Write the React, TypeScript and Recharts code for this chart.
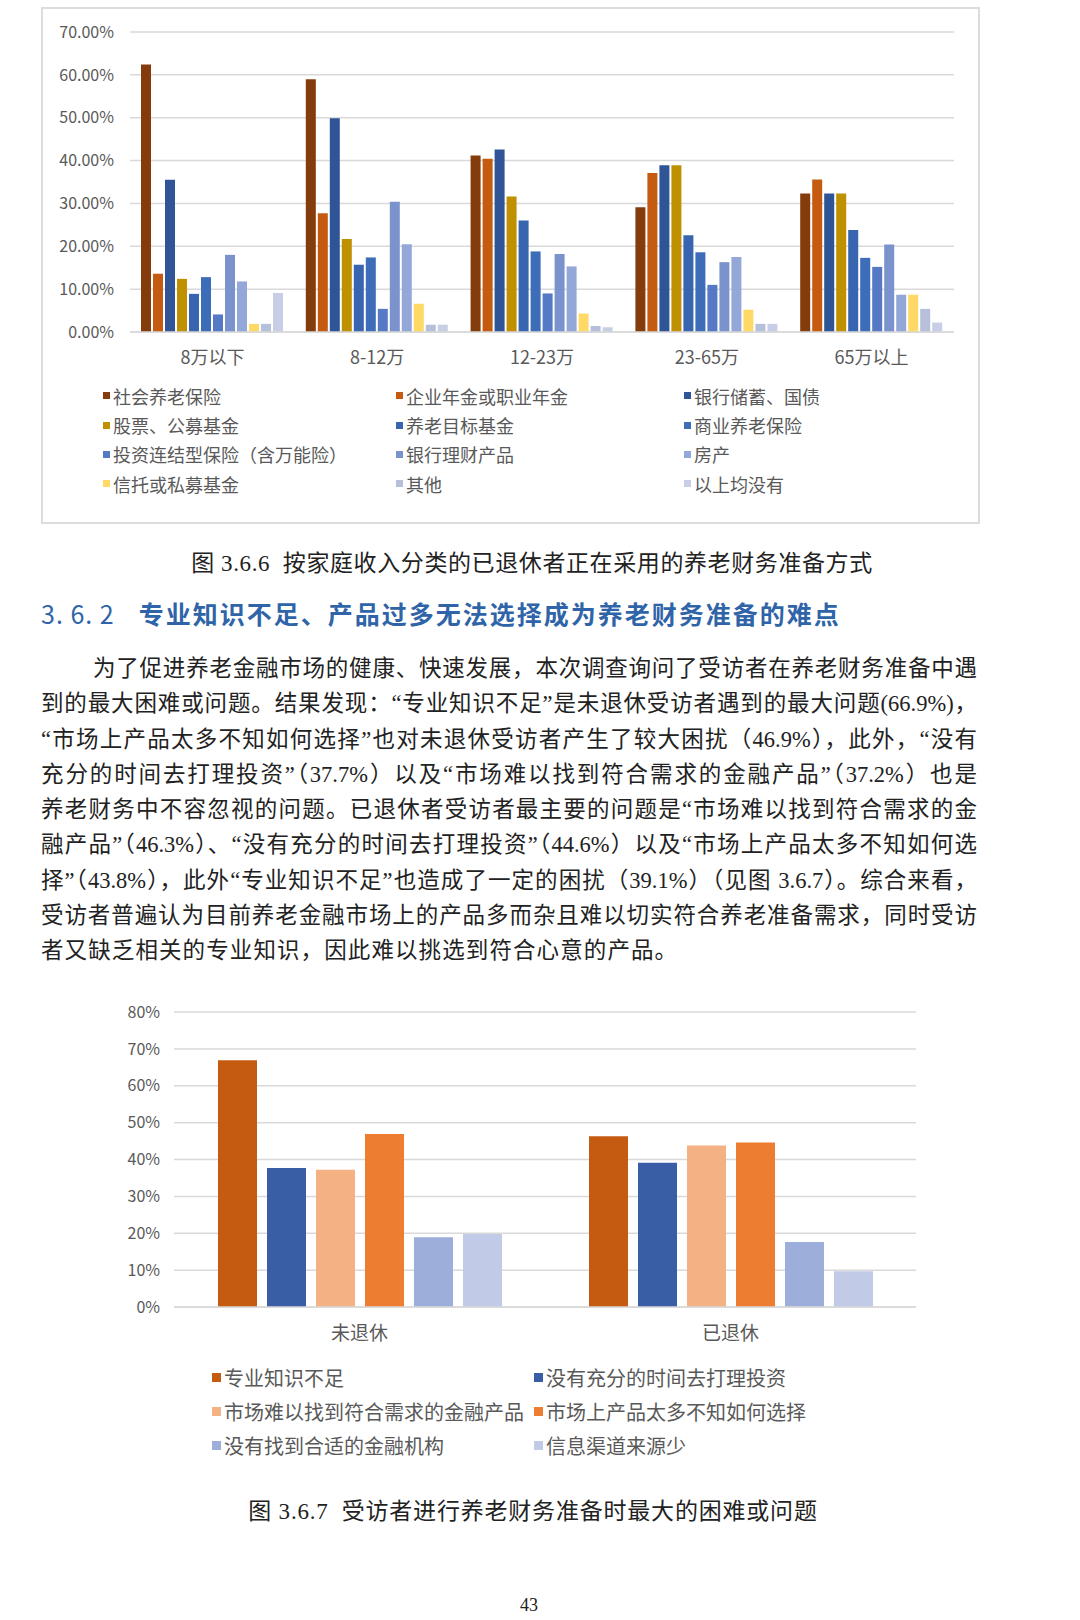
import React from "react"
import { Bar, BarChart, CartesianGrid, Legend, XAxis, YAxis } from "recharts"

// 图 3.6.6 — income groups and preparation methods (%)
const incomeGroups = ["8万以下", "8-12万", "12-23万", "23-65万", "65万以上"]
const methodNames = [
  "社会养老保险",
  "企业年金或职业年金",
  "银行储蓄、国债",
  "股票、公募基金",
  "养老目标基金",
  "商业养老保险",
  "投资连结型保险（含万能险）",
  "银行理财产品",
  "房产",
  "信托或私募基金",
  "其他",
  "以上均没有",
]
const methodColors = [
  "#843C0C",
  "#C55A11",
  "#2F5597",
  "#BF9000",
  "#3864B0",
  "#3D6CB8",
  "#5579C4",
  "#7B93CC",
  "#93A8D8",
  "#FFD966",
  "#B7C0DA",
  "#C8CEE6",
]
// one array per income group, in methodNames order
const under8 = [62.4, 13.6, 35.5, 12.4, 8.9, 12.8, 4.1, 18.0, 11.8, 1.9, 1.9, 9.1]
const from8to12 = [59.0, 27.7, 49.9, 21.7, 15.7, 17.4, 5.4, 30.4, 20.5, 6.6, 1.7, 1.7]
const from12to23 = [41.2, 40.4, 42.6, 31.6, 26.0, 18.8, 9.0, 18.2, 15.3, 4.3, 1.4, 1.1]
const from23to65 = [29.1, 37.1, 38.9, 38.9, 22.6, 18.6, 11.0, 16.3, 17.5, 5.2, 1.9, 1.9]
const over65 = [32.3, 35.6, 32.3, 32.3, 23.8, 17.3, 15.2, 20.4, 8.7, 8.7, 5.4, 2.2]
const incomeTicks = [0, 10, 20, 30, 40, 50, 60, 70]

// 图 3.6.7 — biggest difficulty (%)
const statusGroups = ["未退休", "已退休"]
const problemNames = [
  "专业知识不足",
  "没有充分的时间去打理投资",
  "市场难以找到符合需求的金融产品",
  "市场上产品太多不知如何选择",
  "没有找到合适的金融机构",
  "信息渠道来源少",
]
const problemColors = ["#C55A11", "#3A5EA6", "#F4B183", "#ED7D31", "#9DAEDB", "#C1CAE6"]
const notRetired = [66.9, 37.7, 37.2, 46.9, 18.9, 19.8]
const retired = [46.3, 39.1, 43.8, 44.6, 17.6, 9.7]
const statusTicks = [0, 10, 20, 30, 40, 50, 60, 70, 80]

const paragraphLines = [
  "为了促进养老金融市场的健康、快速发展，本次调查询问了受访者在养老财务准备中遇",
  "到的最大困难或问题。结果发现：“专业知识不足”是未退休受访者遇到的最大问题(66.9%)，",
  "“市场上产品太多不知如何选择”也对未退休受访者产生了较大困扰（46.9%），此外，“没有",
  "充分的时间去打理投资”（37.7%）以及“市场难以找到符合需求的金融产品”（37.2%）也是",
  "养老财务中不容忽视的问题。已退休者受访者最主要的问题是“市场难以找到符合需求的金",
  "融产品”（46.3%）、“没有充分的时间去打理投资”（44.6%）以及“市场上产品太多不知如何选",
  "择”（43.8%），此外“专业知识不足”也造成了一定的困扰（39.1%）（见图 3.6.7）。综合来看，",
  "受访者普遍认为目前养老金融市场上的产品多而杂且难以切实符合养老准备需求，同时受访",
  "者又缺乏相关的专业知识，因此难以挑选到符合心意的产品。",
]

const incomeRows = [under8, from8to12, from12to23, from23to65, over65]
const incomeData = incomeGroups.map((name, i) => {
  const row: Record<string, string | number> = { name }
  methodNames.forEach((m, j) => {
    row[m] = incomeRows[i][j]
  })
  return row
})

const statusRows = [notRetired, retired]
const statusData = statusGroups.map((name, i) => {
  const row: Record<string, string | number> = { name }
  problemNames.forEach((p, j) => {
    row[p] = statusRows[i][j]
  })
  return row
})

const chartFont = '"Noto Sans CJK SC", "Noto Sans", sans-serif'
const bodyFont = '"Liberation Serif", "Noto Sans CJK SC", serif'
const gray = "#595959"

// legend laid out row by row in series order
function GridLegend({ payload, order, columns, rowHeight, fontSize, marker }: any) {
  const items = [...(payload || [])].sort((a: any, b: any) => order.indexOf(a.value) - order.indexOf(b.value))
  return (
    <div
      style={{
        display: "grid",
        gridTemplateColumns: columns.map((c: number) => `${c}px`).join(" "),
        fontFamily: chartFont,
        fontSize,
        color: gray,
      }}
    >
      {items.map((p: any) => (
        <div key={p.value} style={{ height: rowHeight, display: "flex", alignItems: "center", whiteSpace: "nowrap" }}>
          <span style={{ width: marker, height: marker, background: p.color, marginRight: 3, flex: "none" }} />
          {p.value}
        </div>
      ))}
    </div>
  )
}

function IncomeChart() {
  return (
    <div
      style={{
        position: "absolute",
        left: 41,
        top: 7,
        width: 939,
        height: 517,
        border: "2px solid #dcdcdc",
        boxSizing: "border-box",
      }}
    >
      <BarChart
        width={935}
        height={513}
        data={incomeData}
        margin={{ top: 23, right: 24, bottom: 160, left: 0 }}
        barSize={10}
        barGap={2}
      >
        <CartesianGrid vertical={false} stroke="#d9d9d9" strokeWidth={1.5} />
        <XAxis
          dataKey="name"
          height={30}
          tickLine={false}
          axisLine={{ stroke: "#d9d9d9", strokeWidth: 1.5 }}
          tickSize={0}
          tickMargin={19}
          tick={{ fill: gray, fontSize: 18, fontFamily: chartFont }}
        />
        <YAxis
          width={87}
          domain={[0, 70]}
          ticks={incomeTicks}
          tickLine={false}
          axisLine={false}
          tickSize={0}
          tickMargin={16}
          tickFormatter={(v) => `${v.toFixed(2)}%`}
          tick={{ fill: gray, fontSize: 16, fontFamily: chartFont }}
        />
        <Legend
          layout="vertical"
          align="center"
          verticalAlign="middle"
          wrapperStyle={{ top: 372, left: 60, width: 850 }}
          content={(props: any) => (
            <GridLegend
              payload={props.payload}
              order={methodNames}
              columns={[293, 288, 260]}
              rowHeight={29.4}
              fontSize={18}
              marker={7}
            />
          )}
        />
        {methodNames.map((m, i) => (
          <Bar key={m} dataKey={m} fill={methodColors[i]} isAnimationActive={false} />
        ))}
      </BarChart>
    </div>
  )
}

function StatusChart() {
  return (
    <div style={{ position: "absolute", left: 100, top: 985 }}>
      <BarChart
        width={840}
        height={480}
        data={statusData}
        margin={{ top: 27, right: 24, bottom: 128, left: 0 }}
        barSize={39}
        barGap={10}
      >
        <CartesianGrid vertical={false} stroke="#d9d9d9" strokeWidth={1.5} />
        <XAxis
          dataKey="name"
          height={30}
          tickLine={false}
          axisLine={{ stroke: "#d9d9d9", strokeWidth: 1.5 }}
          tickSize={0}
          tickMargin={20}
          tick={{ fill: gray, fontSize: 19, fontFamily: chartFont }}
        />
        <YAxis
          width={74}
          domain={[0, 80]}
          ticks={statusTicks}
          tickLine={false}
          axisLine={false}
          tickSize={0}
          tickMargin={14}
          tickFormatter={(v) => `${v}%`}
          tick={{ fill: gray, fontSize: 16, fontFamily: chartFont }}
        />
        <Legend
          layout="vertical"
          align="center"
          verticalAlign="middle"
          wrapperStyle={{ top: 375, left: 112, width: 720 }}
          content={(props: any) => (
            <GridLegend
              payload={props.payload}
              order={problemNames}
              columns={[322, 360]}
              rowHeight={34}
              fontSize={20}
              marker={9}
            />
          )}
        />
        {problemNames.map((p, i) => (
          <Bar key={p} dataKey={p} fill={problemColors[i]} isAnimationActive={false} />
        ))}
      </BarChart>
    </div>
  )
}

export default function App() {
  return (
    <div
      style={{
        position: "absolute",
        left: 0,
        top: 0,
        width: 1080,
        height: 1620,
        background: "#fff",
        overflow: "hidden",
        color: "#222",
      }}
    >
      <IncomeChart />
      <div
        style={{
          position: "absolute",
          left: 0,
          width: 1064,
          top: 549,
          textAlign: "center",
          fontFamily: bodyFont,
          fontSize: 23,
          letterSpacing: 0.6,
          lineHeight: "30px",
        }}
      >
        图 3.6.6&nbsp; 按家庭收入分类的已退休者正在采用的养老财务准备方式
      </div>
      <div
        style={{
          position: "absolute",
          left: 41,
          top: 597,
          fontFamily: chartFont,
          fontSize: 25,
          lineHeight: "32px",
          color: "#2F64A8",
          whiteSpace: "nowrap",
        }}
      >
        <span style={{ fontWeight: 400, letterSpacing: 1 }}>3. 6. 2</span>
        <span style={{ display: "inline-block", width: 24 }} />
        <span style={{ fontWeight: 700, letterSpacing: 2 }}>专业知识不足、产品过多无法选择成为养老财务准备的难点</span>
      </div>
      <div style={{ position: "absolute", left: 41, top: 651, width: 936, fontFamily: bodyFont, fontSize: 22.5 }}>
        {paragraphLines.map((line, i) => {
          const last = i === paragraphLines.length - 1
          return (
            <div
              key={i}
              style={{
                height: 35.3,
                lineHeight: "35.3px",
                whiteSpace: "nowrap",
                textAlign: "justify",
                textAlignLast: last ? "left" : "justify",
                letterSpacing: last ? 1.1 : 0,
                paddingLeft: i === 0 ? 52 : 0,
              }}
            >
              {line}
            </div>
          )
        })}
      </div>
      <StatusChart />
      <div
        style={{
          position: "absolute",
          left: 0,
          width: 1066,
          top: 1497,
          textAlign: "center",
          fontFamily: bodyFont,
          fontSize: 23,
          letterSpacing: 0.8,
          lineHeight: "30px",
        }}
      >
        图 3.6.7&nbsp; 受访者进行养老财务准备时最大的困难或问题
      </div>
      <div
        style={{
          position: "absolute",
          left: 0,
          width: 1058,
          top: 1592,
          textAlign: "center",
          fontFamily: bodyFont,
          fontSize: 18,
          lineHeight: "26px",
        }}
      >
        43
      </div>
    </div>
  )
}
